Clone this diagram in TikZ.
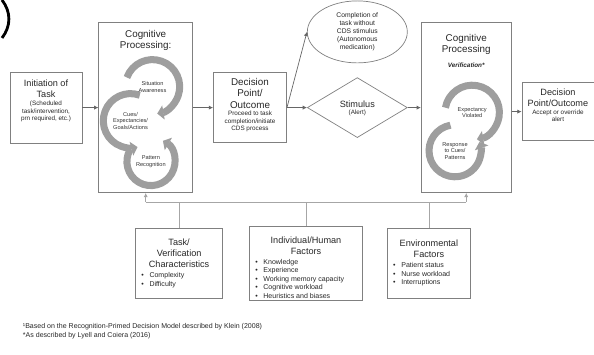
\documentclass[tikz,border=0pt]{standalone}
\usepackage{fontspec}
\setmainfont{Liberation Sans}
\usepackage{xcolor}
\usetikzlibrary{arrows.meta,positioning,shapes.geometric}

\begin{document}
\begin{tikzpicture}[
  box/.style={draw=black!50, line width=0.5pt},
  ttl/.style={font=\fontsize{7}{8}\selectfont, align=center, text=black!85, inner sep=0pt},
  sttl/.style={font=\fontsize{6.5}{7.6}\selectfont, align=center, text=black!85, inner sep=0pt},
  sub/.style={font=\fontsize{4.5}{5.4}\selectfont, align=center, text=black!85, inner sep=0pt},
  lst/.style={font=\fontsize{5}{6.1}\selectfont, align=left, text=black!85, inner sep=0pt, anchor=north west},
  ringtxt/.style={font=\fontsize{4}{4.6}\selectfont, align=center, text=black!80},
  ring/.style={line width=5pt, draw=black!38, -{Triangle[length=4.5pt,width=10pt]}},
  arr/.style={-{Latex[length=3pt,width=3pt]}, draw=black!60, line width=0.5pt},
  link/.style={draw=black!35, line width=0.5pt}
]
  \useasboundingbox (0,0) rectangle (14.85,-8.875);

  % cropped mark top left
  \draw[line width=2pt] (0.05,0) .. controls (0.28,-0.3) and (0.28,-0.65) .. (0.05,-0.95);

  \node[box, minimum width=1.8cm, minimum height=1.78cm] (init) at (1.15,-2.69) {};
  \node[sttl, below=0.2cm of init.north] (initttl) {Initiation of\\Task};
  \node[sub, below=0.08cm of initttl] (initsub) {(Scheduled\\task/intervention,\\prn required, etc.)};

  \node[box, minimum width=2.35cm, minimum height=4.25cm, right=0.4cm of init] (cp1) {};
  \node[ttl, below=0.2cm of cp1.north] (cp1ttl) {Cognitive\\Processing:};

  \node[box, minimum width=1.83cm, minimum height=1.75cm, right=0.5cm of cp1] (dec1) {};
  \node[ttl, below=0.15cm of dec1.north] (dec1ttl) {Decision\\Point/\\Outcome};
  \node[sub, below=0.06cm of dec1ttl] (dec1sub) {Proceed to task\\completion/initiate\\CDS process};

  \node[diamond, box, minimum width=2.5cm, minimum height=1.5cm, inner sep=0pt,
        right=0.5cm of dec1] (stim) {};
  \node[sttl, above=0pt of stim.center] (stimttl) {Stimulus};
  \node[sub, below=0.05cm of stimttl] (stimsub) {(Alert)};

  \node[ellipse, box, minimum width=2.5cm, minimum height=1.55cm, inner sep=0pt,
        font=\fontsize{4.8}{5.7}\selectfont, align=center, text=black!85,
        above=0.35cm of stim] (ell)
    {Completion of\\task without\\CDS stimulus\\(Autonomous\\medication)};

  \node[box, minimum width=2.25cm, minimum height=4.25cm, right=0.33cm of stim] (cp2) {};
  \node[ttl, below=0.3cm of cp2.north] (cp2ttl) {Cognitive\\Processing};
  \node[font=\fontsize{4.5}{5}\selectfont\bfseries\itshape, text=black!85, inner sep=0pt,
        below=0.18cm of cp2ttl] (verif) {Verification*};

  \node[box, minimum width=1.8cm, minimum height=1.45cm, right=0.25cm of cp2, yshift=-0.1cm] (dec2) {};
  \node[sttl, below=0.17cm of dec2.north] (dec2ttl) {Decision\\Point/Outcome};
  \node[sub, below=0.06cm of dec2ttl] (dec2sub) {Accept or override\\alert};

  % circular arrows
  \coordinate (saC) at ([shift={(0.17,0.52)}]cp1.center);
  \coordinate (cuC) at ([shift={(-0.38,-0.33)}]cp1.center);
  \coordinate (paC) at ([shift={(0.13,-1.35)}]cp1.center);
  \coordinate (evC) at ([shift={(0.15,-0.12)}]cp2.center);
  \coordinate (rcC) at ([shift={(-0.28,-1.08)}]cp2.center);

  \draw[ring] ([shift={(160:0.68)}]saC) arc[start angle=160, end angle=-80, radius=0.68];
  \draw[ring] ([shift={(70:0.68)}]cuC) arc[start angle=70, end angle=285, radius=0.68];
  \draw[ring] ([shift={(150:0.6)}]paC) arc[start angle=150, end angle=420, radius=0.6];
  \draw[ring] ([shift={(170:0.68)}]evC) arc[start angle=170, end angle=-80, radius=0.68];
  \draw[ring] ([shift={(100:0.65)}]rcC) arc[start angle=100, end angle=380, radius=0.65];

  \node[ringtxt] (sa) at (saC) {Situation\\Awareness};
  \node[ringtxt] (cues) at (cuC) {Cues/\\Expectancies/\\Goals/Actions};
  \node[ringtxt] (pat) at (paC) {Pattern\\Recognition};
  \node[ringtxt] (ev) at (evC) {Expectancy\\Violated};
  \node[ringtxt] (rc) at (rcC) {Response\\to Cues/\\Patterns};

  % factors
  \node[box, minimum width=2.83cm, minimum height=1.85cm] (indiv) at (7.65,-6.575) {};
  \node[sttl, below=0.28cm of indiv.north] (indivttl) {Individual/Human\\Factors};
  \node[lst] (indivlst) at ([xshift=0.15cm, yshift=-0.1cm]indivttl.south -| indiv.west)
    {\textbullet\hspace{0.8em}Knowledge\\
     \textbullet\hspace{0.8em}Experience\\
     \textbullet\hspace{0.8em}Working memory capacity\\
     \textbullet\hspace{0.8em}Cognitive workload\\
     \textbullet\hspace{0.8em}Heuristics and biases};

  \node[box, minimum width=2.18cm, minimum height=1.75cm, left=0.65cm of indiv] (task) {};
  \node[sttl, below=0.28cm of task.north] (taskttl) {Task/\\Verification\\Characteristics};
  \node[lst] (tasklst) at ([xshift=0.15cm, yshift=-0.12cm]taskttl.south -| task.west)
    {\textbullet\hspace{0.8em}Complexity\\
     \textbullet\hspace{0.8em}Difficulty};

  \node[box, minimum width=2.08cm, minimum height=1.75cm, right=0.6cm of indiv] (env) {};
  \node[sttl, below=0.3cm of env.north] (envttl) {Environmental\\Factors};
  \node[lst] (envlst) at ([xshift=0.15cm, yshift=-0.12cm]envttl.south -| env.west)
    {\textbullet\hspace{0.8em}Patient status\\
     \textbullet\hspace{0.8em}Nurse workload\\
     \textbullet\hspace{0.8em}Interruptions};

  \node[anchor=north west, align=left, text=black!85, font=\fontsize{5}{6.4}\selectfont] (note) at (0.45,-7.95)
    {¹Based on the Recognition-Primed Decision Model described by Klein (2008)\\
     *As described by Lyell and Coiera (2016)};

  % flow
  \draw[arr] (init) -- (cp1);
  \draw[arr] (cp1) -- (dec1);
  \draw[arr] (dec1) -- (stim);
  \draw[arr] (dec1.east) -- (ell.west);
  \draw[arr] (stim) -- (cp2);
  \draw[arr] (cp2.east |- dec2) -- (dec2);

  % influences
  \coordinate (busL) at (cp1.south |- 0,-5.05);
  \coordinate (busR) at (cp2.south |- 0,-5.05);
  \draw[link] (busL) -- (busR);
  \draw[link, -{Latex[length=3pt,width=3pt]}] (busL) -- (cp1.south);
  \draw[link, -{Latex[length=3pt,width=3pt]}] (busR) -- (cp2.south);
  \draw[link] (task.north) -- (task.north |- busL);
  \draw[link] (indiv.north) -- (indiv.north |- busL);
  \draw[link] (env.north) -- (env.north |- busL);
\end{tikzpicture}
\end{document}
